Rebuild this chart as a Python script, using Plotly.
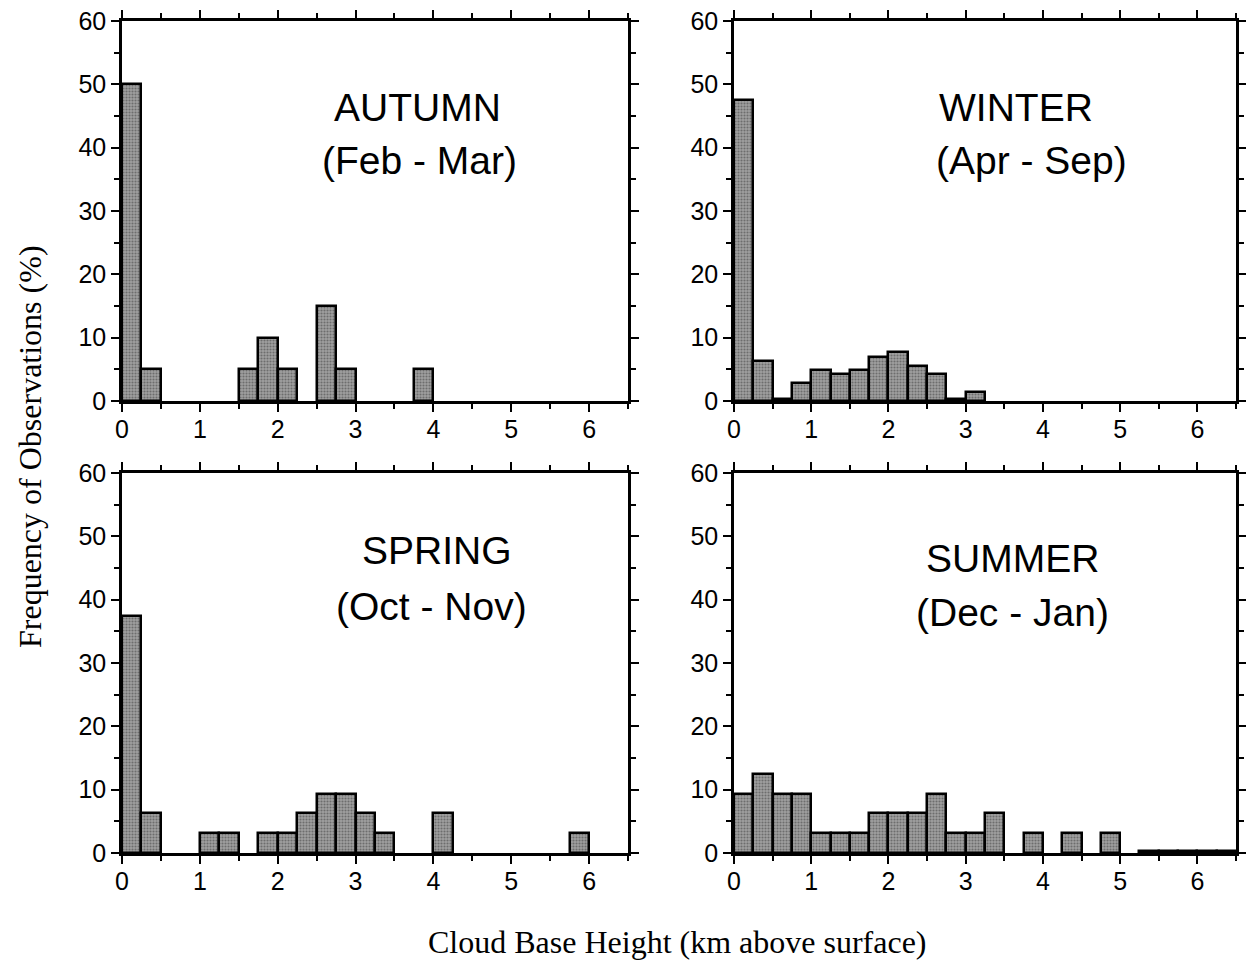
import plotly.graph_objects as go

# bin left edges (km), bin width 0.25 km
bin_left = [0.0, 0.25, 0.5, 0.75, 1.0, 1.25, 1.5, 1.75, 2.0, 2.25, 2.5, 2.75, 3.0,
            3.25, 3.5, 3.75, 4.0, 4.25, 4.5, 4.75, 5.0, 5.25, 5.5, 5.75, 6.0, 6.25]
bin_width = 0.25

autumn = [50, 5, 0, 0, 0, 0, 5, 10, 5, 0, 15, 5, 0, 0, 0, 5, 0, 0, 0, 0, 0, 0, 0, 0, 0, 0]
winter = [47.6, 6.3, 0.35, 2.9, 4.9, 4.2, 4.9, 7.0, 7.8, 5.6, 4.2, 0.35, 1.4,
          0, 0, 0, 0, 0, 0, 0, 0, 0, 0, 0, 0, 0]
spring = [37.5, 6.25, 0, 0, 3.125, 3.125, 0, 3.125, 3.125, 6.25, 9.375, 9.375, 6.25,
          3.125, 0, 0, 6.25, 0, 0, 0, 0, 0, 0, 3.125, 0, 0]
summer = [9.375, 12.5, 9.375, 9.375, 3.125, 3.125, 3.125, 6.25, 6.25, 6.25, 9.375, 3.125, 3.125,
          6.25, 0, 3.125, 0, 3.125, 0, 3.125, 0, 0.3, 0.3, 0.3, 0.3, 0.3]

seasons = ["AUTUMN", "WINTER", "SPRING", "SUMMER"]
months = ["(Feb - Mar)", "(Apr - Sep)", "(Oct - Nov)", "(Dec - Jan)"]
series = [autumn, winter, spring, summer]

# label placement in data units (km, %)
season_x = [3.8, 3.65, 4.05, 3.6]
season_y = [46.3, 46.3, 47.8, 46.5]
months_x = [3.82, 3.85, 3.97, 3.6]
months_y = [38.0, 38.0, 38.9, 38.0]

W, H = 1246, 960
x_dom = [[122 / W, 628 / W], [734 / W, 1236 / W]]
y_dom = [[1 - 401 / H, 1 - 21 / H], [1 - 853 / H, 1 - 473 / H]]

fig = go.Figure()
centers = [b + bin_width / 2 for b in bin_left]
tick_font = dict(family="Liberation Sans, Arial, sans-serif", size=25, color="black")
label_font = dict(family="Liberation Sans, Arial, sans-serif", size=39, color="black")

for i, vals in enumerate(series):
    k = i + 1
    xa = "x" if k == 1 else f"x{k}"
    ya = "y" if k == 1 else f"y{k}"
    fig.add_trace(go.Bar(
        x=centers, y=[v if v > 0 else None for v in vals], width=bin_width,
        xaxis=xa, yaxis=ya,
        marker=dict(color="#8f8f8f",
                    line=dict(color="black", width=2.5),
                    pattern=dict(shape=".", fgcolor="#3a3a3a", bgcolor="#a0a0a0",
                                 size=3, solidity=0.4)),
        showlegend=False,
    ))
    row, col = divmod(i, 2)
    axis_common = dict(showline=True, linecolor="black", linewidth=2.5, mirror="ticks",
                       ticks="outside", tickwidth=2, tickcolor="black", ticklen=8,
                       showgrid=False, zeroline=False, tickfont=tick_font,
                       automargin=False)
    fig.layout[("xaxis" if k == 1 else f"xaxis{k}")] = dict(
        domain=x_dom[col], anchor=ya, range=[0, 6.5], tickvals=[0, 1, 2, 3, 4, 5, 6],
        ticklabelstandoff=-4,
        minor=dict(tickvals=[0.5, 1.5, 2.5, 3.5, 4.5, 5.5, 6.5], ticklen=5, tickwidth=2,
                   tickcolor="black", ticks="outside"),
        **axis_common)
    fig.layout[("yaxis" if k == 1 else f"yaxis{k}")] = dict(
        domain=y_dom[row], anchor=xa, range=[0, 60], tickvals=[0, 10, 20, 30, 40, 50, 60],
        ticklabelstandoff=0,
        minor=dict(tickvals=[5, 15, 25, 35, 45, 55], ticklen=5, tickwidth=2,
                   tickcolor="black", ticks="outside"),
        **axis_common)
    fig.add_annotation(x=season_x[i], y=season_y[i], xref=xa, yref=ya, text=seasons[i],
                       showarrow=False, font=label_font)
    fig.add_annotation(x=months_x[i], y=months_y[i], xref=xa, yref=ya, text=months[i],
                       showarrow=False, font=label_font)

serif = dict(family="Liberation Serif, Times New Roman, serif", size=32, color="black")
fig.add_annotation(x=30 / W, y=1 - 447 / H, xref="paper", yref="paper",
                   xanchor="center", yanchor="middle",
                   text="Frequency of Observations (%)", textangle=-90,
                   showarrow=False, font=serif)
fig.add_annotation(x=677 / W, y=1 - 942 / H, xref="paper", yref="paper",
                   xanchor="center", yanchor="middle",
                   text="Cloud Base Height (km above surface)",
                   showarrow=False, font=serif)

fig.update_layout(width=W, height=H,
                  margin=dict(l=0, r=0, t=0, b=0, autoexpand=False),
                  paper_bgcolor="white", plot_bgcolor="white", bargap=0)

fig.write_html("out.html")
